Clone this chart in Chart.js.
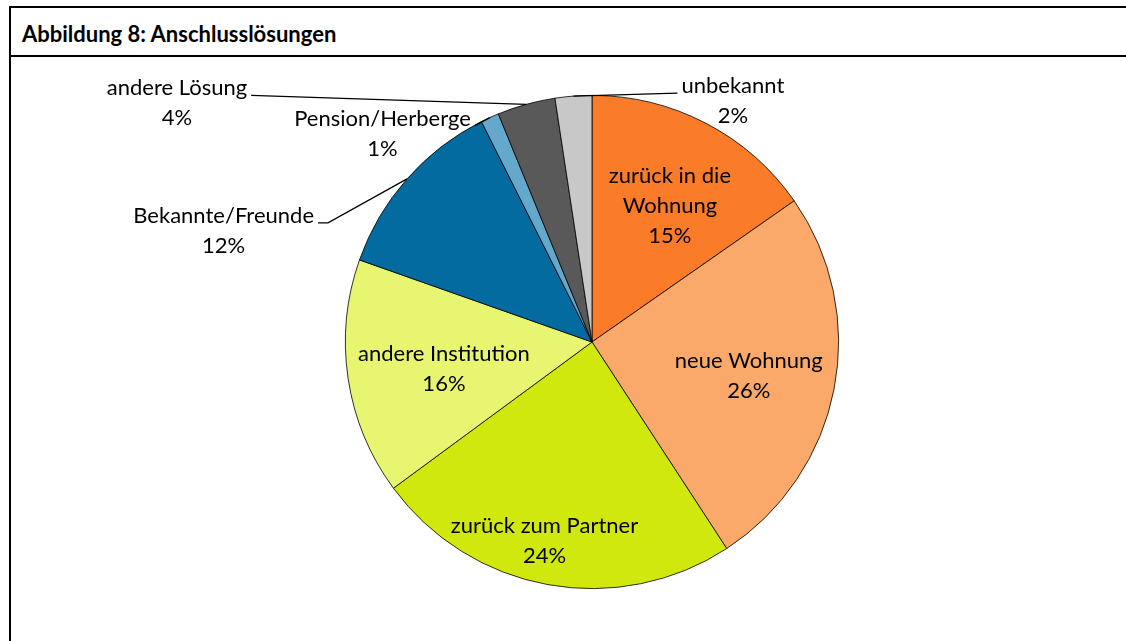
<!DOCTYPE html>
<html lang="de">
<head>
<meta charset="utf-8">
<title>Abbildung 8: Anschlusslösungen</title>
<script src="https://cdn.jsdelivr.net/npm/chart.js@4"></script>
<style>
	body { margin: 0; background: #fff; width: 1126px; height: 641px; overflow: hidden; position: relative; font-family: Lato, "Open Sans", sans-serif; }
	.frame { position: absolute; left: 9px; top: 6px; width: 1200px; height: 700px; border-top: 2px solid #000; border-left: 2px solid #000; }
	.titlebar { position: absolute; left: 9px; top: 55px; width: 1200px; border-top: 2px solid #000; }
	.title { position: absolute; left: 22px; top: 21px; font-weight: bold; font-size: 22px; line-height: 26px; color: #000; white-space: nowrap; }
	#chart { position: absolute; left: 0; top: 0; }
</style>
</head>
<body>
<div class="frame"></div>
<div class="titlebar"></div>
<div class="title">Abbildung 8: Anschlusslösungen</div>
<canvas id="chart" width="1126" height="641"></canvas>
<script>
// Anschlusslösungen, im Uhrzeigersinn ab 12 Uhr
const categories = [
	"zurück in die Wohnung", "neue Wohnung", "zurück zum Partner", "andere Institution",
	"Bekannte/Freunde", "Pension/Herberge", "andere Lösung", "unbekannt"
];
const shares = [15.3, 25.5, 24.1, 15.5, 12.2, 1.2, 3.8, 2.4];
const colors = ["#FA7B28", "#FBA96B", "#D1E80F", "#E7F571", "#036BA0", "#64A8CB", "#595959", "#C8C8C8"];

// Zeilenumbrüche der Beschriftungen wie im Original
const labelLines = {
	"zurück in die Wohnung": ["zurück in die", "Wohnung"]
};

const labelFont = "22px Lato, 'Open Sans', sans-serif";
const lineHeight = 30;

// innen: Abstand vom Mittelpunkt als Anteil des Radius, kleine Winkelkorrektur
const insideLabels = {
	0: { r: 0.635, shift: 0.04 },
	1: { r: 0.65, shift: 0.02 },
	2: { r: 0.83, shift: 0.055 },
	3: { r: 0.61, shift: -0.03 }
};
// außen: Endpunkt der Führungslinie relativ zum Bogenpunkt, Knick optional
const outsideLabels = {
	4: { end: [-89, 44], elbow: [-79, 44], side: "left" },
	5: { end: [-15, 8], side: "left" },
	6: { end: [-275, -9], side: "left" },
	7: { end: [104, -3], side: "right" }
};

const pieLabels = {
	id: "pieLabels",
	afterDatasetsDraw(chart) {
		const c = chart.ctx;
		const arcs = chart.getDatasetMeta(0).data;
		c.save();
		c.font = labelFont;
		c.fillStyle = "#000";
		c.textBaseline = "middle";
		c.textAlign = "center";
		arcs.forEach((arc, i) => {
			const p = arc.getProps(["x", "y", "startAngle", "endAngle", "outerRadius"], true);
			const mid = (p.startAngle + p.endAngle) / 2;
			const name = categories[i];
			const lines = (labelLines[name] || [name]).concat([Math.round(shares[i]) + "%"]);
			if (insideLabels[i] !== undefined) {
				const s = insideLabels[i];
				const r = p.outerRadius * s.r;
				const cx = p.x + Math.cos(mid + s.shift) * r;
				const cy = p.y + Math.sin(mid + s.shift) * r;
				const y0 = cy - (lines.length - 1) * lineHeight / 2;
				lines.forEach((t, k) => c.fillText(t, cx, y0 + k * lineHeight));
			} else {
				const o = outsideLabels[i];
				const ax = p.x + Math.cos(mid) * p.outerRadius;
				const ay = p.y + Math.sin(mid) * p.outerRadius;
				const ex = ax + o.end[0], ey = ay + o.end[1];
				c.beginPath();
				c.strokeStyle = "#000";
				c.lineWidth = 1.3;
				c.moveTo(ax, ay);
				if (o.elbow) c.lineTo(ax + o.elbow[0], ay + o.elbow[1]);
				c.lineTo(ex, ey);
				c.stroke();
				const w = Math.max(...lines.map(t => c.measureText(t).width));
				const cx = o.side === "left" ? ex - 4 - w / 2 : ex + 4 + w / 2;
				const y0 = ey - 7;
				lines.forEach((t, k) => c.fillText(t, cx, y0 + k * lineHeight));
			}
		});
		c.restore();
	}
};

new Chart(document.getElementById("chart"), {
	type: "pie",
	data: {
		labels: categories,
		datasets: [{
			data: shares,
			backgroundColor: colors,
			borderColor: "#000",
			borderWidth: 0.8
		}]
	},
	options: {
		responsive: false,
		animation: false,
		devicePixelRatio: 1,
		layout: { padding: { top: 95, bottom: 52, left: 345, right: 287 } },
		plugins: {
			legend: { display: false },
			tooltip: { enabled: false }
		}
	},
	plugins: [pieLabels]
});
</script>
</body>
</html>
